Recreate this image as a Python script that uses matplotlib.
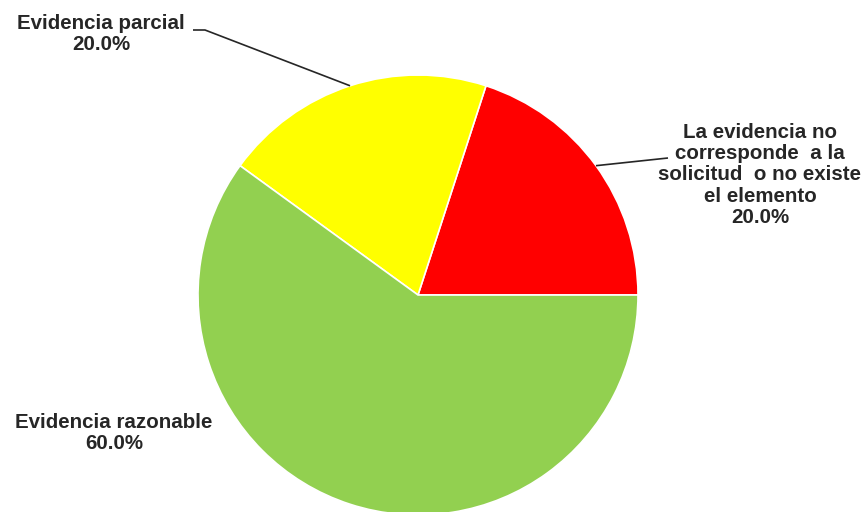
import numpy as np
import matplotlib.pyplot as plt

# share of elements by evidence level
categorias = ['La evidencia no\ncorresponde  a la\nsolicitud  o no existe\nel elemento',
              'Evidencia parcial',
              'Evidencia razonable']
valores = [20.0, 20.0, 60.0]
colores = ['#ff0000', '#ffff00', '#92d050']

W, H = 867, 512
fig = plt.figure(figsize=(W / 100, H / 100), dpi=100)
ax = fig.add_axes([0, 0, 1, 1])

cx, cy, r = 418, H - 295, 220
wedges, _ = ax.pie(valores, colors=colores, startangle=0, counterclock=True,
                   center=(cx, cy), radius=r, frame=True,
                   wedgeprops=dict(edgecolor='white', linewidth=1.2))
ax.set_xlim(0, W)
ax.set_ylim(0, H)
ax.set_aspect('equal')
ax.axis('off')

total = sum(valores)
txt = dict(fontsize=14.8, fontweight='bold', color='#262626',
           family='Liberation Sans', ha='center', va='center',
           multialignment='center', linespacing=1.16)

def borde(w):
    a = np.deg2rad((w.theta1 + w.theta2) / 2)
    return cx + r * np.cos(a), cy + r * np.sin(a)

# label positions and leader line ends
pos_txt = [(760, H - 175), (101, H - 34), (114, H - 433)]
guia = [[(668, H - 158)], [(205, H - 30), (193, H - 30)], None]

for w, nombre, v, p, g in zip(wedges, categorias, valores, pos_txt, guia):
    ax.text(p[0], p[1], f'{nombre}\n{v / total * 100:.1f}%', **txt)
    if g:
        xs, ys = zip(*([borde(w)] + g))
        ax.plot(xs, ys, color='#262626', lw=1.2, solid_capstyle='butt')

fig.savefig('out.png', dpi=100, facecolor='white')
